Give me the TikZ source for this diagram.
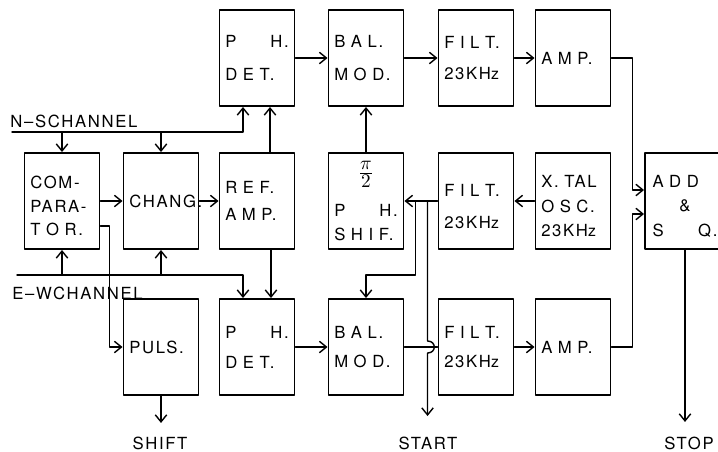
\documentclass[tikz,border=0pt]{standalone}
\usepackage{fontspec}
\setmainfont{TeX Gyre Heros}[LetterSpace=10]
\usetikzlibrary{arrows.meta,calc}

\tikzset{
  blk/.style={draw,line width=1.1pt,minimum width=1.5cm,minimum height=1.92cm,
    inner sep=0pt,text width=1.27cm,align=left,font=\fontsize{9.5}{17}\selectfont},
  wire/.style={line width=0.8pt},
  arr/.style={wire,-{Straight Barb[length=4pt,width=6.5pt]}},
  lbl/.style={inner sep=0pt,font=\fontsize{9.5}{11}\selectfont},
}
\newcommand{\lowr}{\rule{0pt}{13pt}}

\begin{document}
\begin{tikzpicture}[x=0.02cm,y=-0.02cm,line cap=round,line join=round]
        \clip (0,0) rectangle (718,451);

        % Kanaleingaenge und Vergleicher
        \node[blk,font=\fontsize{9.5}{13.5}\selectfont] (comp) at (62,201) {\lowr COM-\\PARA-\\T O R.};
        \node[blk] (chang) at (161,201) {CHANG.};
        \node[blk] (puls) at (161,347) {PULS.};

        % Phasendetektoren und Referenz
        \node[blk,font=\fontsize{9.5}{19}\selectfont] (phdA) at (257,58) {P\hfill H.\\D E T.};
        \node[blk,font=\fontsize{9.5}{15}\selectfont] (ref) at (257,201) {R E F.\\A M P.};
        \node[blk] (phdB) at (257,347) {P\hfill H.\\D E T.};

        % Modulatoren und Phasenschieber
        \node[blk,font=\fontsize{9.5}{14}\selectfont] (balA) at (366,58) {B A L.\\[5pt]M O D.};
        \node[blk,font=\fontsize{9.5}{14}\selectfont] (psh) at (366,201)
            {\makebox[\linewidth]{\fontsize{15}{15}\selectfont$\frac{\pi}{2}$}\\[7pt]P\hfill H.\\S H I F.};
        \node[blk] (balB) at (366,347) {B A L.\\M O D.};

        % Filter, Verstaerker, Oszillator
        \node[blk,font=\fontsize{9.5}{18}\selectfont] (filtA) at (476,58) {F I L T.\\23KH{\small z}};
        \node[blk,font=\fontsize{9.5}{18}\selectfont] (filtB) at (476,201) {\lowr F I L T.\\23KH{\small z}};
        \node[blk] (filtC) at (476,347) {F I L T.\\23KH{\small z}};
        \node[blk] (ampA) at (573,58) {A M P.};
        \node[blk,font=\fontsize{9.5}{14}\selectfont] (xtal) at (573,201) {\lowr X. TAL\\O S C.\\23KH{\small z}};
        \node[blk] (ampB) at (573,347) {A M P.};

        \node[blk,minimum width=1.6cm,text width=1.3cm,font=\fontsize{9.5}{14}\selectfont]
            (add) at (685,201) {\lowr A D D\\\makebox[\linewidth]{\&}\\S\hfill Q.};

        % Beschriftungen
        \node[lbl,anchor=west] (nsl) at (10,121) {N--SCHANNEL};
        \node[lbl,anchor=west] (ewl) at (12,293) {E--WCHANNEL};
        \node[lbl] (shiftl) at (160,443) {SHIFT};
        \node[lbl] (startl) at (428,443) {START};
        \node[lbl] (stopl) at (689,443) {STOP};

        \coordinate (ns) at (12,132);
        \coordinate (ew) at (17,275);
        \coordinate (stj) at ($(filtB.west)+(-10,0)$);
        \coordinate (brj) at ($(filtB.west)+(-22,0)$);

        % N-S Kanal
        \draw[arr] (ns) -| ($(phdA.south)+(-14,0)$);
        \draw[arr] (comp.north |- ns) -- (comp.north);
        \draw[arr] (chang.north |- ns) -- (chang.north);

        % E-W Kanal
        \draw[arr] (ew) -| ($(phdB.north)+(-14,0)$);
        \draw[arr] (comp.south |- ew) -- (comp.south);
        \draw[arr] (chang.south |- ew) -- (chang.south);

        \draw[arr] (comp.east) -- (chang.west);
        \draw[arr] (chang.east) -- (ref.west);
        \draw[arr] ($(comp.east)+(0,25)$) -- ++(9,0) |- (puls.west);
        \draw[arr] (puls.south) -- ($(puls.south)+(0,27)$);

        \draw[arr] ($(ref.north)+(13,0)$) -- ($(phdA.south)+(13,0)$);
        \draw[arr] ($(ref.south)+(14,0)$) -- ($(phdB.north)+(14,0)$);

        % obere Kette
        \draw[arr] (phdA.east) -- (balA.west);
        \draw[arr] (balA.east) -- (filtA.west);
        \draw[arr] (filtA.east) -- (ampA.west);
        \draw[arr] (psh.north) -- (balA.south);

        % Referenzzweig
        \draw[arr] (xtal.west) -- (filtB.east);
        \draw[arr] (filtB.west) -- (psh.east);
        \draw[arr] (brj) -- ++(0,74) -| (balB.north);
        \draw[arr] (stj) -- ($(stj |- balB.east)+(0,-6)$)
            .. controls +(9,0) and +(9,0) .. ($(stj |- balB.east)+(0,6)$)
            -- ($(stj |- balB.east)+(0,69)$);

        % untere Kette
        \draw[arr] (phdB.east) -- (balB.west);
        \draw[wire] (balB.east) -- (filtC.west);
        \draw[arr] (filtC.east) -- (ampB.west);

        % Addierer
        \draw[arr] (ampA.east) -- ++(21,0) |- ($(add.west)+(0,-11)$);
        \draw[arr] (ampB.east) -- ++(21,0) |- ($(add.west)+(0,13)$);
        \draw[arr] (add.south) -- ($(add.south)+(0,172)$);
    \end{tikzpicture}
\end{document}
